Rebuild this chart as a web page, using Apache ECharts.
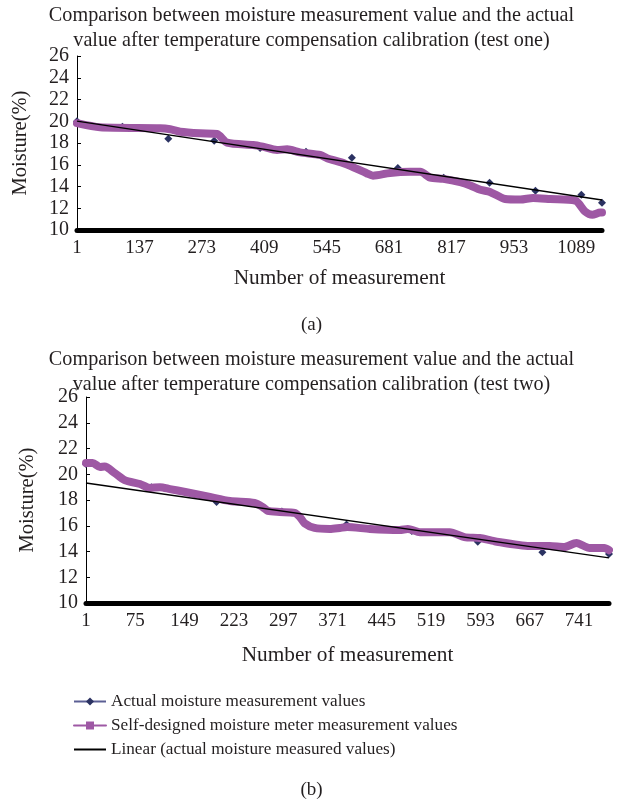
<!DOCTYPE html>
<html>
<head>
<meta charset="utf-8">
<script src="https://cdn.jsdelivr.net/npm/echarts@6/dist/echarts.min.js"></script>
<style>
  html, body { margin: 0; padding: 0; background: #fff; }
  #main { width: 623px; height: 803px; }
</style>
</head>
<body>
<div id="main"></div>
<script>
// test one (a)
const measA = [1, 51, 182, 204, 226, 269, 306, 328, 385, 406, 437, 459, 487, 531, 546, 585, 633, 646, 683, 727, 749, 771, 799, 836, 858, 880, 901, 934, 967, 995, 1032, 1087, 1108, 1124, 1141, 1145];
const selfA = [19.82, 19.44, 19.35, 19.26, 19.04, 18.89, 18.83, 18.03, 17.82, 17.66, 17.36, 17.42, 17.14, 16.9, 16.6, 16.1, 15.2, 15.0, 15.25, 15.35, 15.35, 14.8, 14.7, 14.4, 14.1, 13.7, 13.5, 12.85, 12.8, 12.95, 12.85, 12.7, 11.7, 11.4, 11.6, 11.6];
const actualMeasA = [1, 100, 200, 300, 400, 500, 600, 700, 800, 900, 1000, 1100, 1145];
const actualA = [20.0, 19.5, 18.4, 18.2, 17.55, 17.2, 16.65, 15.7, 14.8, 14.35, 13.6, 13.25, 12.5];
const trendMeasA = [1, 1145];
const trendA = [20.02, 12.76];

// test two (b)
const measB = [1, 11, 22, 29, 44, 59, 82, 97, 112, 127, 150, 187, 217, 254, 266, 274, 292, 314, 322, 329, 344, 367, 382, 393, 427, 472, 484, 502, 547, 569, 592, 614, 667, 697, 719, 737, 757, 779, 786];
const selfB = [20.87, 20.87, 20.56, 20.6, 20.1, 19.55, 19.24, 18.93, 19.0, 18.85, 18.62, 18.23, 17.92, 17.77, 17.46, 17.15, 17.07, 17.0, 16.68, 16.2, 15.83, 15.75, 15.83, 15.9, 15.75, 15.67, 15.75, 15.5, 15.5, 15.12, 15.05, 14.8, 14.43, 14.43, 14.35, 14.66, 14.27, 14.27, 14.1];
const actualMeasB = [1, 99, 197, 295, 392, 490, 589, 686, 786];
const actualB = [20.8, 19.0, 17.85, 17.1, 16.1, 15.6, 14.75, 13.95, 13.8];
const trendMeasB = [1, 786];
const trendB = [19.32, 13.5];

const yTicks = [10, 12, 14, 16, 18, 20, 22, 24, 26];
const xStepA = 136;
const xStepB = 74;

const titleA = 'Comparison between moisture measurement value and the actual\nvalue after temperature compensation calibration (test one)';
const titleB = 'Comparison between moisture measurement value and the actual\nvalue after temperature compensation calibration (test two)';
const nameActual = 'Actual moisture measurement values';
const nameSelf = 'Self-designed moisture meter measurement values';
const nameTrend = 'Linear (actual moisture measured values)';

const FONT = '"Liberation Serif", "Times New Roman", serif';
const TXT = '#231f20';
const PURPLE = '#9e58a4';
const NAVY = '#2b3262';

function pairs(xs, ys) {
  return xs.map((m, i) => [m - 1, ys[i]]);
}

function xAxisFor(gridIndex, max, step, gap) {
  return {
    type: 'value', gridIndex: gridIndex, min: 0, max: max, interval: step,
    name: 'Number of measurement', nameLocation: 'middle', nameGap: gap,
    nameTextStyle: { fontFamily: FONT, fontSize: 21.3, color: TXT },
    splitLine: { show: false },
    axisTick: { show: false },
    axisLine: { show: true, onZero: false, lineStyle: { color: '#000', width: 5 } },
    axisLabel: {
      fontFamily: FONT, fontSize: 19, color: TXT, margin: 9,
      showMaxLabel: false,
      formatter: v => (v % step === 0 ? String(v + 1) : '')
    }
  };
}

function yAxisFor(gridIndex, gap) {
  return {
    type: 'value', gridIndex: gridIndex, min: yTicks[0], max: yTicks[yTicks.length - 1], interval: 2,
    name: 'Moisture(%)', nameLocation: 'middle', nameGap: gap,
    nameTextStyle: { fontFamily: FONT, fontSize: 20.5, color: TXT },
    splitLine: { show: false },
    axisLine: { show: true, lineStyle: { color: '#000', width: 1 } },
    axisTick: { show: true, inside: true, length: 4, lineStyle: { color: '#000' } },
    axisLabel: { fontFamily: FONT, fontSize: 20, color: TXT, margin: 8 }
  };
}

function seriesFor(idx, aM, aV, sM, sV, tM, tV) {
  return [
    {
      name: nameActual, type: 'line', xAxisIndex: idx, yAxisIndex: idx, z: 2,
      data: pairs(aM, aV), symbol: 'diamond', symbolSize: 8, showSymbol: true,
      itemStyle: { color: NAVY }, lineStyle: { width: 0, opacity: 0, color: '#5b5f94' },
      animation: false
    },
    {
      name: nameSelf, type: 'line', xAxisIndex: idx, yAxisIndex: idx, z: 3,
      data: pairs(sM, sV), symbol: 'rect', symbolSize: 8, showSymbol: false,
      smooth: 0.25,
      itemStyle: { color: PURPLE }, lineStyle: { width: 8, color: PURPLE, cap: 'round', join: 'round' },
      animation: false
    },
    {
      name: nameTrend, type: 'line', xAxisIndex: idx, yAxisIndex: idx, z: 4,
      data: pairs(tM, tV), symbol: 'none',
      itemStyle: { color: '#000' }, lineStyle: { width: 1.3, color: '#000' },
      animation: false
    }
  ];
}

const chart = echarts.init(document.getElementById('main'), null, { renderer: 'canvas' });

const titleStyle = { fontFamily: FONT, fontSize: 20.2, fontWeight: 'normal', color: TXT, lineHeight: 25 };
const capStyle = { fontFamily: FONT, fontSize: 19, fontWeight: 'normal', color: TXT };

chart.setOption({
  backgroundColor: '#fff',
  animation: false,
  title: [
    { text: titleA, left: 'center', top: -2, textStyle: titleStyle },
    { text: titleB, left: 'center', top: 342, textStyle: titleStyle },
    { text: '(a)', left: 'center', top: 311, textStyle: capStyle },
    { text: '(b)', left: 'center', top: 776, textStyle: capStyle }
  ],
  grid: [
    { left: 77, right: 21, top: 56, height: 174 },
    { left: 86, right: 14, top: 397, height: 206 }
  ],
  xAxis: [
    xAxisFor(0, measA[measA.length - 1] - 1, xStepA, 38),
    xAxisFor(1, measB[measB.length - 1] - 1, xStepB, 42)
  ],
  yAxis: [yAxisFor(0, 46), yAxisFor(1, 48)],
  legend: {
    orient: 'vertical', left: 68, top: 688, itemWidth: 32, itemHeight: 10, itemGap: 7,
    data: [nameActual, nameSelf, { name: nameTrend, itemStyle: { opacity: 0 } }],
    lineStyle: { width: 2, opacity: 1 },
    textStyle: { fontFamily: FONT, fontSize: 17.2, color: TXT }
  },
  series: [].concat(
    seriesFor(0, actualMeasA, actualA, measA, selfA, trendMeasA, trendA),
    seriesFor(1, actualMeasB, actualB, measB, selfB, trendMeasB, trendB)
  )
});
</script>
</body>
</html>
